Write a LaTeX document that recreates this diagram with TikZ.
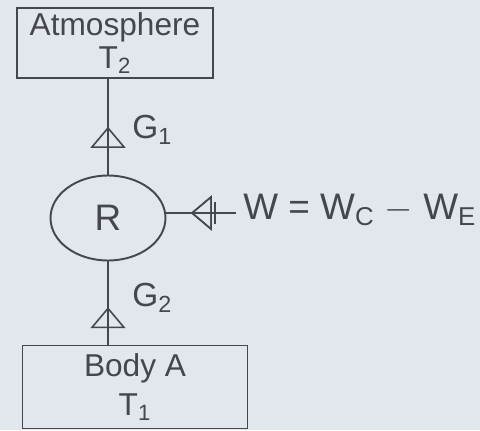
\documentclass[tikz,border=0pt]{standalone}
\usepackage{fontspec}
\setmainfont{Liberation Sans}
\usetikzlibrary{shapes.geometric,arrows.meta,decorations.markings}
\definecolor{paper}{RGB}{226,231,237}
\definecolor{pen}{RGB}{70,70,78}
\tikzset{
  pen/.style={draw=pen, line width=1.1pt},
  boxnode/.style={pen, rectangle, align=center, inner sep=0pt, font=\fontsize{18}{19}\selectfont, text=pen},
  lbl/.style={text=pen, inner sep=0pt, font=\fontsize{19}{22}\selectfont},
  uparrow/.style={postaction={decorate}, decoration={markings,
      mark=at position #1 with {\arrow[pen, line width=0.9pt]{Triangle[open, length=12pt, width=20pt]}}}}
}
\begin{document}
\begin{tikzpicture}[x=0.02cm, y=-0.02cm]
\fill[paper] (0,0) rectangle (480,430);
\useasboundingbox (0,0) rectangle (480,430);
\node[boxnode, minimum width=3.92cm, minimum height=1.4cm] (atm) at (115,43)
  {Atmosphere\\ T\textsubscript{2}};
\node[pen, ellipse, minimum width=2.3cm, minimum height=1.7cm, inner sep=0pt,
      text=pen, font=\fontsize{21}{24}\selectfont] (R) at (108,218) {R};
\node[boxnode, minimum width=4.5cm, minimum height=1.66cm] (body) at (135,387)
  {Body A\\[3pt] T\textsubscript{1}};
\coordinate (wend) at (236,213);
\draw[pen, uparrow=0.5] (R.north) -- (atm.south -| R.north);
\draw[pen, uparrow=0.45] (body.north -| R.south) -- (R.south);
\draw[pen, uparrow=0.65,
  postaction={decorate}, decoration={markings, mark=at position 0.3 with {\draw[pen] (0,-6pt) -- (0,6pt);}}]
  (wend) -- (R.east |- wend);
\node[lbl, anchor=west] (g1) at (132,130) {G\textsubscript{1}};
\node[lbl, anchor=west] (g2) at (132,298) {G\textsubscript{2}};
\node[lbl, anchor=west, font=\fontsize{21}{24}\selectfont] (w) at (243,210) {W = W\textsubscript{C} $-$ W\textsubscript{E}};
\end{tikzpicture}
\end{document}
